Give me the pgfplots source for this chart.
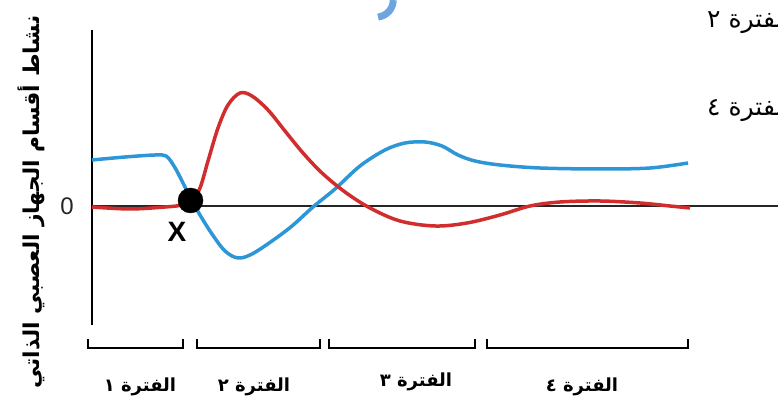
\documentclass[border=0pt]{standalone}
\usepackage{fontspec}
\setmainfont{Liberation Sans}
\newfontfamily\arabicfont[Script=Arabic]{DejaVu Sans}
\TeXXeTstate=1
\usepackage{pgfplots}
\pgfplotsset{compat=1.18}
\definecolor{cblue}{RGB}{45,150,215}
\definecolor{cred}{RGB}{210,45,45}
\definecolor{lblue}{RGB}{110,165,225}
\begin{document}
\begin{tikzpicture}
\begin{axis}[name=ax, x=1pt, y=1pt, xmin=0, xmax=778, ymin=-197, ymax=206,
  axis lines=none, clip=false, anchor=south west, at={(0,0)}]
% axes
\draw[line width=2.5pt] (axis cs:92,176) -- (axis cs:92,-119);
\draw[line width=2pt, black!85] (axis cs:92,0) -- (axis cs:778,0);
% blue curve
\addplot[cblue, line width=3.5pt, smooth, tension=0.55] coordinates {
(92,46) (125,49) (155,51) (166,50) (174,40) (182,25) (190,9) (200,-9) (212,-28)
(225,-45) (238,-52) (252,-48) (272,-35) (292,-20) (313,-1) (335,17) (360,40)
(385,56) (405,63) (425,64) (442,60) (458,51) (475,45) (500,41) (540,38) (600,37)
(650,38) (688,43)};
% red curve
\addplot[cred, line width=3.5pt, smooth, tension=0.55] coordinates {
(92,-1) (130,-3) (165,-1) (182,1) (192,6) (200,18) (208,45) (218,78) (228,101)
(240,113) (252,110) (268,96) (285,75) (303,53) (322,33) (345,14) (370,-2) (400,-15)
(435,-20) (467,-17) (500,-9) (530,0) (560,4) (600,5) (640,3) (670,0) (690,-2)};
% point X
\addplot[only marks, mark=*, mark size=12.5pt, black] coordinates {(190.5,5.5)};
% brackets
\draw[line width=2.5pt, line cap=rect] (axis cs:88,-134) -- (axis cs:88,-142) -- (axis cs:183,-142) -- (axis cs:183,-134);
\draw[line width=2.5pt, line cap=rect] (axis cs:197,-134) -- (axis cs:197,-142) -- (axis cs:320,-142) -- (axis cs:320,-134);
\draw[line width=2.5pt, line cap=rect] (axis cs:329,-134) -- (axis cs:329,-142) -- (axis cs:475,-142) -- (axis cs:475,-134);
\draw[line width=2.5pt, line cap=rect] (axis cs:487,-134) -- (axis cs:487,-142) -- (axis cs:688,-142) -- (axis cs:688,-134);
% labels
\node[font=\fontsize{24}{26}\selectfont, black!85] at (axis cs:67,0) {0};
\node[font=\bfseries\fontsize{28}{30}\selectfont] at (axis cs:177,-26) {X};
\node[rotate=90, font=\arabicfont\bfseries\fontsize{21.8}{24}\selectfont] at (axis cs:31,4)
  {\beginR نشاط أقسام الجهاز العصبي الذاتي\endR};
\node[font=\arabicfont\bfseries\fontsize{18}{20}\selectfont] at (axis cs:140,-181) {\beginR الفترة ١\endR};
\node[font=\arabicfont\bfseries\fontsize{18}{20}\selectfont] at (axis cs:254,-181) {\beginR الفترة ٢\endR};
\node[font=\arabicfont\bfseries\fontsize{18}{20}\selectfont] at (axis cs:416,-176) {\beginR الفترة ٣\endR};
\node[font=\arabicfont\bfseries\fontsize{18}{20}\selectfont] at (axis cs:582,-181) {\beginR الفترة ٤\endR};
\node[anchor=west, inner sep=0pt, font=\arabicfont\fontsize{25}{28}\selectfont] at (axis cs:707,185) {\beginR الفترة ٢\endR};
\node[anchor=west, inner sep=0pt, font=\arabicfont\fontsize{25}{28}\selectfont] at (axis cs:707,97) {\beginR الفترة ٤\endR};
% decorative arc at top
\draw[lblue, line width=7pt] (axis cs:378,189) arc[start angle=-84, end angle=0, radius=17pt];
\end{axis}
\pgfresetboundingbox
\path[use as bounding box] (ax.south west) rectangle (ax.north east);
\end{tikzpicture}
\end{document}
